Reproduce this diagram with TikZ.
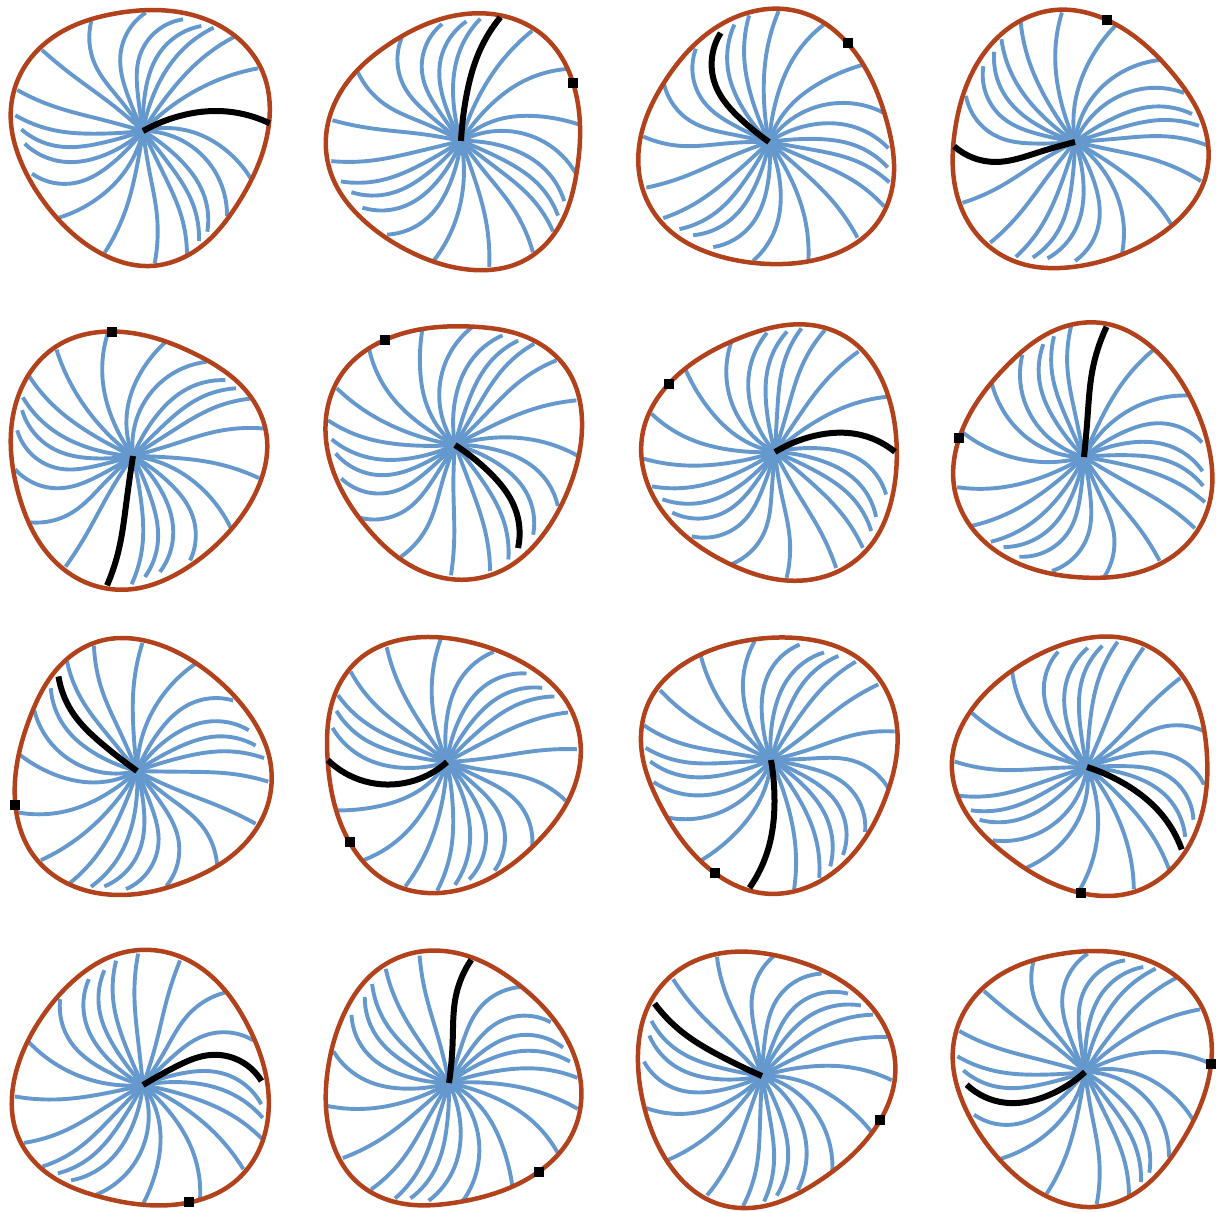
\documentclass[tikz,border=0pt]{standalone}
\usetikzlibrary{hobby}
\def\XA{{540,560,550,530,505,490,450,412,380,340,320,310,300,303,330,360,385,415,435,460,510,530}}
\def\YA{{350,393,425,470,490,520,520,500,510,490,465,430,403,360,310,300,290,290,290,290,280,310}}
\def\XB{{650,690,645,610,580,545,472,375,290,230,190,170,165,148,215,285,362,420,480,545,610,660}}
\def\YB{{335,462,515,580,615,650,650,640,600,550,487,440,393,316,225,193,170,170,160,155,175,240}}
\def\XC{{810,755,682,623,598,562,465,315,178,97,75,65,47,53,127,275,438,550,605,642,705,775}}
\def\YC{{372,540,650,697,725,765,792,760,655,523,433,390,348,272,152,65,40,60,80,85,112,207}}
% interpolate spoke point radially between spokes \kA and \kB with fraction \fr
\newcommand{\calcpt}[4]{%
  \pgfmathsetmacro{\ax}{#1[\kA]-430}\pgfmathsetmacro{\ay}{#2[\kA]-395}%
  \pgfmathsetmacro{\bx}{#1[\kB]-430}\pgfmathsetmacro{\by}{#2[\kB]-395}%
  \pgfmathsetmacro{\px}{(1-\fr)*\ax+\fr*\bx}\pgfmathsetmacro{\py}{(1-\fr)*\ay+\fr*\by}%
  \pgfmathsetmacro{\sc}{((1-\fr)*veclen(\ax,\ay)+\fr*veclen(\bx,\by))/max(veclen(\px,\py),0.01)}%
  \pgfmathsetmacro{#3}{430+\px*\sc}\pgfmathsetmacro{#4}{395+\py*\sc}}
\newcommand{\spokecurve}[2]{% #1 index, #2 style
  \pgfmathtruncatemacro{\kA}{#1}\pgfmathtruncatemacro{\kB}{mod(#1+1,22)}%
  \calcpt{\XA}{\YA}{\ptax}{\ptay}\calcpt{\XB}{\YB}{\ptbx}{\ptby}\calcpt{\XC}{\YC}{\ptcx}{\ptcy}%
  \draw[#2] (430,395)..(\ptax,\ptay)..(\ptbx,\ptby)..(\ptcx,\ptcy);}
\begin{document}
\begin{tikzpicture}[x=1pt,y=-1pt,
  spokeline/.style={draw=spokeblue,line width=3.9pt,line join=round,use Hobby shortcut},
  blackline/.style={draw=black,line width=6pt,line join=round,use Hobby shortcut},
  rim/.style={draw=rimred,line width=4.5pt,line join=round,use Hobby shortcut,closed=true},
  sq/.style={fill=black,draw=none,minimum size=10pt,inner sep=0pt,rectangle}]
\definecolor{spokeblue}{HTML}{6599CD}
\definecolor{rimred}{HTML}{B2421C}
\useasboundingbox (0,0) rectangle (1216,1211);
\def\rimpath{(808,372)..(790,220)..(700,105)..(530,37)..(350,42)..(190,95)..(70,210)..(33,350)..(65,490)..(150,630)..(300,760)..(450,800)..(600,745)..(710,620)}
\foreach \n/\cx/\cy in {0/143/131,1/461/141,2/769/142,3/1075/142,
  4/133/456,5/455/445,6/775/452,7/1084/457,
  8/137/771,9/447/762,10/771/760,11/1087/767,
  12/143/1085,13/449/1083,14/762/1076,15/1085/1072}{
  \pgfmathsetmacro{\ang}{\n*24}
  \pgfmathsetmacro{\ub}{mod(220-\n*34/15,22)}
  \pgfmathtruncatemacro{\bk}{floor(\ub)}
  \pgfmathsetmacro{\fr}{\ub-\bk}
  \begin{scope}[shift={(\cx,\cy)},rotate=\ang]
  \begin{scope}[x=.33333pt,y=-.33333pt,shift={(-430,-395)}]
    \foreach \s in {0,...,21}{
      \ifnum\s=\bk\relax\else
        \spokecurve{\s}{spokeline}
      \fi
    }
    \draw[rim] \rimpath;
    \spokecurve{\bk}{blackline}
    \ifnum\n>0
      \node[sq] (sq\n) at (808,372) {};
    \fi
  \end{scope}
  \end{scope}
}
\end{tikzpicture}
\end{document}
